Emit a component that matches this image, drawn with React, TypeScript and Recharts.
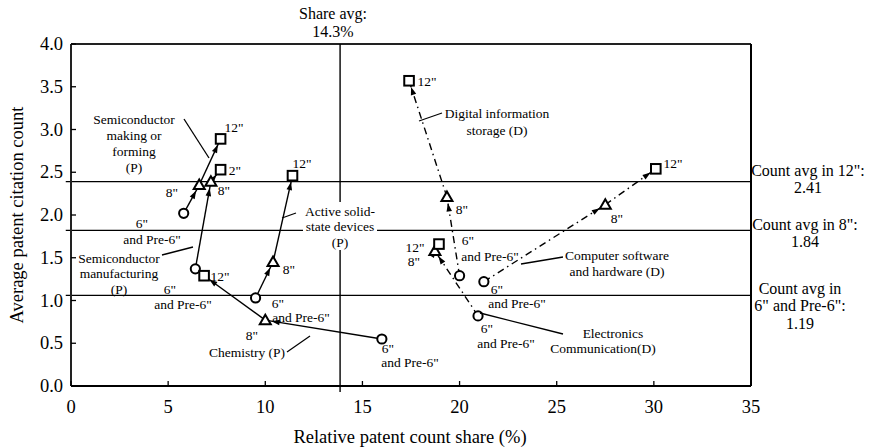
import React from "react";
import { ComposedChart, XAxis, YAxis, Line, Scatter, ReferenceLine } from "recharts";

const FONT = '"Liberation Serif", "Times New Roman", Times, serif';

// wafer size stages; every series below lists its values in this order
const stages = ['6" and Pre-6"', '8"', '12"'];
const stageMarkers = ["circle", "triangle", "square"];

// relative patent count share (%) and average patent citation count
const semiMakingShare = [5.8, 6.6, 7.7];
const semiMakingCitation = [2.02, 2.35, 2.89];
const semiManufShare = [6.4, 7.2, 7.7];
const semiManufCitation = [1.37, 2.39, 2.53];
const activeShare = [9.5, 10.4, 11.4];
const activeCitation = [1.03, 1.45, 2.46];
const chemistryShare = [16.0, 10.0, 6.85];
const chemistryCitation = [0.55, 0.77, 1.29];
const digitalShare = [20.0, 19.35, 17.4];
const digitalCitation = [1.29, 2.21, 3.57];
const electronicsShare = [20.95, 18.73, 18.94];
const electronicsCitation = [0.82, 1.58, 1.66];
const computerShare = [21.25, 27.5, 30.1];
const computerCitation = [1.22, 2.12, 2.54];

const xTicks = [0, 5, 10, 15, 20, 25, 30, 35];
const yTicks = [0, 0.5, 1, 1.5, 2, 2.5, 3, 3.5, 4];

// averages: where the lines sit on the plot
const shareAvg = 13.85;
const countAvgs = [2.39, 1.82, 1.06];

const series = [
  { name: "Semiconductor making or forming (P)", xs: semiMakingShare, ys: semiMakingCitation, dashed: false },
  { name: "Semiconductor manufacturing (P)", xs: semiManufShare, ys: semiManufCitation, dashed: false },
  { name: "Active solid-state devices (P)", xs: activeShare, ys: activeCitation, dashed: false },
  { name: "Chemistry (P)", xs: chemistryShare, ys: chemistryCitation, dashed: false },
  { name: "Digital information storage (D)", xs: digitalShare, ys: digitalCitation, dashed: true },
  { name: "Electronics Communication (D)", xs: electronicsShare, ys: electronicsCitation, dashed: true },
  { name: "Computer software and hardware (D)", xs: computerShare, ys: computerCitation, dashed: true },
].map((s) => ({
  ...s,
  points: s.xs.map((x, i) => ({ x, y: s.ys[i], stage: stages[i], marker: stageMarkers[i] })),
}));

function ArrowHead(props: any) {
  const { index, cx, cy, points } = props;
  if (index !== 1 || !points || points.length < 2) return <g key={`ah-${index}`} />;
  const dx = cx - points[0].x;
  const dy = cy - points[0].y;
  const len = Math.hypot(dx, dy) || 1;
  const ux = dx / len;
  const uy = dy / len;
  const tx = cx - ux * 6.5;
  const ty = cy - uy * 6.5;
  const bx = tx - ux * 8;
  const by = ty - uy * 8;
  return (
    <polygon
      key={`ah-${index}`}
      points={`${tx},${ty} ${bx - uy * 2.8},${by + ux * 2.8} ${bx + uy * 2.8},${by - ux * 2.8}`}
      fill="#000"
    />
  );
}

function Marker(props: any) {
  const { cx, cy, payload } = props;
  if (payload.marker === "circle")
    return <circle cx={cx} cy={cy} r={4.6} fill="#fff" stroke="#000" strokeWidth={2} />;
  if (payload.marker === "triangle")
    return (
      <polygon
        points={`${cx},${cy - 5.5} ${cx - 5.5},${cy + 4} ${cx + 5.5},${cy + 4}`}
        fill="#fff"
        stroke="#000"
        strokeWidth={2}
      />
    );
  return <rect x={cx - 4.8} y={cy - 4.8} width={9.6} height={9.6} fill="#fff" stroke="#000" strokeWidth={2} />;
}

function XTick(props: any) {
  const { x, y, payload } = props;
  return (
    <g>
      <line x1={x} y1={y} x2={x} y2={y - 5} stroke="#000" strokeWidth={1.3} />
      <text x={x} y={y + 21} textAnchor="middle" dominantBaseline="central" fontSize={18.5} fontFamily={FONT} fill="#000">
        {payload.value}
      </text>
    </g>
  );
}

function YTick(props: any) {
  const { x, y, payload } = props;
  return (
    <g>
      <line x1={x} y1={y} x2={x + 5} y2={y} stroke="#000" strokeWidth={1.3} />
      <text x={x - 8} y={y} textAnchor="end" dominantBaseline="central" fontSize={18.5} fontFamily={FONT} fill="#000">
        {Number(payload.value).toFixed(1)}
      </text>
    </g>
  );
}

// annotation texts: [x, y, text]
const notes: [number, number, string][] = [
  [134, 119, "Semiconductor"], [134, 135, "making or"], [134, 151, "forming"], [134, 167, "(P)"],
  [234, 127, '12"'], [235, 170, '2"'], [172, 192, '8"'], [224, 190, '8"'],
  [142, 223, '6"'], [152, 239, 'and Pre-6"'],
  [119, 258, "Semiconductor"], [119, 273, "manufacturing"], [119, 289, "(P)"],
  [170, 289, '6"'], [183, 304, 'and Pre-6"'], [220, 276, '12"'],
  [302, 163, '12"'], [289, 269, '8"'], [278, 303, '6"'], [301, 317, 'and Pre-6"'],
  [252, 335, '8"'], [247, 352, "Chemistry (P)"], [388, 348, '6"'], [410, 362, 'and Pre-6"'],
  [427, 81, '12"'], [497, 113, "Digital information"], [497, 130, "storage (D)"], [462, 209, '8"'],
  [468, 240, '6"'], [490, 256, 'and Pre-6"'],
  [415, 247, '12"'], [414, 261, '8"'], [487, 328, '6"'], [506, 343, 'and Pre-6"'],
  [613, 333, "Electronics"], [603, 348, "Communication(D)"],
  [497, 289, '6"'], [517, 303, 'and Pre-6"'],
  [617, 255, "Computer software"], [617, 271, "and hardware (D)"],
  [673, 163, '12"'], [617, 218, '8"'],
];

const sideNotes: [number, number, string][] = [
  [333, 13, "Share avg:"], [333, 31, "14.3%"],
  [808, 170, 'Count avg in 12":'], [808, 187, "2.41"],
  [805, 224, 'Count avg in 8":'], [805, 241, "1.84"],
  [800, 288, "Count avg in"], [800, 305, '6" and Pre-6":'], [800, 323, "1.19"],
];

const leaders: [number, number, number, number][] = [
  [184, 119, 209, 158],
  [162, 255, 193, 247],
  [296, 213, 282, 218],
  [287, 352, 310, 336],
  [442, 113, 419, 121],
  [563, 257, 521, 264],
  [480, 313, 563, 334],
];

export default function App() {
  return (
    <div style={{ position: "absolute", left: 0, top: 0, width: 872, height: 448, background: "#fff" }}>
      <ComposedChart width={872} height={448} margin={{ top: 44, right: 121, bottom: 32, left: 11 }}>
        <XAxis
          type="number"
          dataKey="x"
          domain={[0, 35]}
          ticks={xTicks}
          height={30}
          tickSize={0}
          tickMargin={0}
          tick={<XTick />}
          axisLine={{ stroke: "#000", strokeWidth: 2 }}
          tickLine={false}
        />
        <YAxis
          type="number"
          dataKey="y"
          domain={[0, 4]}
          ticks={yTicks}
          width={60}
          tickSize={0}
          tickMargin={0}
          tick={<YTick />}
          axisLine={{ stroke: "#222", strokeWidth: 2 }}
          tickLine={false}
        />
        <ReferenceLine y={4} stroke="#222" strokeWidth={2} />
        <ReferenceLine x={35} stroke="#000" strokeWidth={2} />
        {countAvgs.map((v) => (
          <ReferenceLine key={`c-${v}`} segment={[{ x: -0.27, y: v }, { x: 35, y: v }]} ifOverflow="visible" stroke="#000" strokeWidth={1.4} />
        ))}
        <ReferenceLine segment={[{ x: shareAvg, y: -0.07 }, { x: shareAvg, y: 4 }]} ifOverflow="visible" stroke="#000" strokeWidth={1.4} />
        {series.flatMap((s, si) =>
          [0, 1].map((k) => (
            <Line
              key={`seg-${si}-${k}`}
              data={[s.points[k], s.points[k + 1]]}
              dataKey="y"
              type="linear"
              stroke="#000"
              strokeWidth={1.4}
              strokeDasharray={s.dashed ? "7 4 1.5 4" : undefined}
              dot={<ArrowHead />}
              activeDot={false}
              legendType="none"
              isAnimationActive={false}
            />
          ))
        )}
        {series.map((s, si) => (
          <Scatter key={`pts-${si}`} name={s.name} data={s.points} dataKey="y" shape={<Marker />} isAnimationActive={false} />
        ))}
      </ComposedChart>
      <svg width={872} height={448} style={{ position: "absolute", left: 0, top: 0, pointerEvents: "none" }}>
        <rect x={303} y={202} width={74} height={48} fill="#fff" />
        {leaders.map(([x1, y1, x2, y2], i) => (
          <line key={`l-${i}`} x1={x1} y1={y1} x2={x2} y2={y2} stroke="#000" strokeWidth={1.3} />
        ))}
        {[
          [340, 211, "Active solid-"],
          [340, 226, "state devices"],
          [340, 242, "(P)"],
        ].map(([x, y, t], i) => (
          <text key={`as-${i}`} x={x as number} y={y as number} textAnchor="middle" dominantBaseline="central" fontSize={13.5} fontFamily={FONT}>
            {t}
          </text>
        ))}
        {notes.map(([x, y, t], i) => (
          <text key={`n-${i}`} x={x} y={y} textAnchor="middle" dominantBaseline="central" fontSize={13.5} fontFamily={FONT}>
            {t}
          </text>
        ))}
        {sideNotes.map(([x, y, t], i) => (
          <text key={`s-${i}`} x={x} y={y} textAnchor="middle" dominantBaseline="central" fontSize={16} fontFamily={FONT}>
            {t}
          </text>
        ))}
        <text x={410} y={437} textAnchor="middle" dominantBaseline="central" fontSize={18.5} fontFamily={FONT}>
          Relative patent count share (%)
        </text>
        <text
          x={17}
          y={215}
          transform="rotate(-90 17 215)"
          textAnchor="middle"
          dominantBaseline="central"
          fontSize={18.5}
          fontFamily={FONT}
        >
          Average patent citation count
        </text>
      </svg>
    </div>
  );
}
